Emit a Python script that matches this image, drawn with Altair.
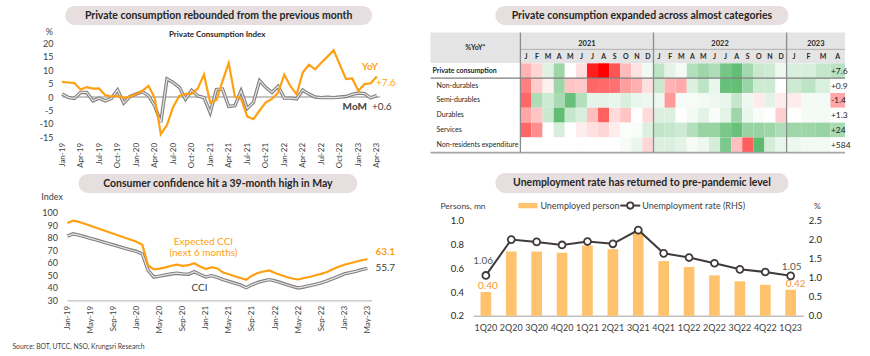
import altair as alt
import pandas as pd

# ---------------- data ----------------
tl_ticks = ["Jan-19", "Apr-19", "Jul-19", "Oct-19", "Jan-20", "Apr-20", "Jul-20", "Oct-20",
            "Jan-21", "Apr-21", "Jul-21", "Oct-21", "Jan-22", "Apr-22", "Jul-22", "Oct-22",
            "Jan-23", "Apr-23"]
yoy = [5.6, 5.4, 5.2, 2.8, 3.7, 3.1, 3.2, 0.7, 0.2, 0.4, -0.4, 0.2, 1.0, 2.3, 4.1, -0.2,
       -13.8, -10.4, -3.7, 0.4, 1.2, 1.2, 3.2, 8.4, -2.1, -1.2, 5.9, 12.6, 0.2, -0.7, -7.2,
       -8.2, -5.0, -2.0, -0.7, 1.6, 8.3, 4.0, 1.0, 9.1, 12.0, 10.3, 12.7, 15.0, 17.4, 12.0,
       6.7, 6.9, 2.3, 4.8, 5.1, 7.6]
mom = [1.1, -0.1, -0.5, 1.7, 1.7, -1.4, -0.4, -1.4, -0.5, 2.6, -2.2, 0.2, 1.1, 2.0, 0.5, -3.2,
       -9.4, 6.7, 5.4, 3.6, -0.8, 2.5, 0.4, -0.2, -5.8, 2.8, 3.0, -3.5, -3.2, 2.3, -4.2, -2.0,
       6.1, 3.6, 1.7, 4.0, -0.4, -0.4, -0.7, 2.6, 1.1, 0.0, -0.2, -0.1, -0.2, 0.0, 0.2, 1.0,
       1.5, 1.3, -0.3, 0.6]

bl_ticks = ["Jan-19", "May-19", "Sep-19", "Jan-20", "May-20", "Sep-20", "Jan-21", "May-21",
            "Sep-21", "Jan-22", "May-22", "Sep-22", "Jan-23", "May-23"]
cci = [81.5, 83.3, 82.3, 81.0, 79.7, 78.4, 77.0, 75.7, 74.4, 73.0, 71.7, 70.4, 69.2, 67.2,
       54.0, 48.6, 49.5, 50.4, 51.2, 51.8, 51.2, 51.0, 53.0, 50.8, 48.8, 49.8, 48.5, 46.7,
       45.2, 43.8, 42.4, 40.2, 42.5, 44.4, 45.6, 46.6, 45.6, 44.2, 42.6, 41.2, 40.0, 40.8,
       41.8, 42.9, 44.1, 45.7, 47.5, 49.3, 51.2, 52.2, 53.3, 54.6, 55.7]
exp_cci = [92.0, 93.8, 92.9, 91.3, 89.7, 88.1, 86.5, 84.9, 83.3, 81.7, 80.1, 78.5, 76.9, 74.5,
           58.0, 54.8, 55.5, 56.5, 57.8, 58.6, 57.7, 58.2, 59.8, 57.2, 55.1, 56.6, 55.6, 52.3,
           51.0, 49.4, 48.0, 46.6, 49.8, 52.0, 53.2, 54.0, 52.0, 50.3, 48.8, 47.6, 46.8, 48.0,
           48.8, 50.2, 51.3, 52.8, 55.0, 57.0, 58.6, 59.8, 61.0, 62.2, 63.1]

quarters = ["1Q20", "2Q20", "3Q20", "4Q20", "1Q21", "2Q21", "3Q21", "4Q21", "1Q22", "2Q22",
            "3Q22", "4Q22", "1Q23"]
unemployed = [0.40, 0.74, 0.74, 0.73, 0.79, 0.76, 0.91, 0.66, 0.61, 0.54, 0.49, 0.46, 0.42]
unemp_rate = [1.06, 2.00, 1.94, 1.86, 1.95, 1.89, 2.25, 1.64, 1.53, 1.38, 1.22, 1.15, 1.05]

hm_rows = ["Private consumption", "Non-durables", "Semi-durables", "Durables", "Services",
           "Non-residents expenditure"]
hm_years = ["2021", "2022", "2023"]
hm_months = ["J", "F", "M", "A", "M", "J", "J", "A", "S", "O", "N", "D"] * 2 + ["J", "F", "M", "A"]
# colour score per cell (red < 0 < green)
hm_pc = [-0.30, -0.17, 0.15, 0.45, 0.00, -0.12, -0.88, -1.00, -0.67, -0.27, -0.11, 0.07,
         0.30, 0.13, 0.05, 0.35, 0.45, 0.37, 0.63, 0.72, 0.43, 0.25, 0.23, 0.08,
         0.18, 0.18, 0.27, 0.32]
hm_nd = [-0.50, -0.20, -0.06, 0.45, -0.23, -0.21, -0.60, -0.58, -0.56, -0.38, -0.31, -0.12,
         0.25, -0.30, -0.33, 0.16, 0.30, 0.10, 0.70, 0.72, 0.47, 0.23, 0.23, 0.00,
         0.23, 0.30, 0.17, 0.00]
hm_sd = [-0.60, 0.37, 0.23, 0.40, 0.70, 0.35, 0.12, 0.12, 0.10, 0.18, 0.10, 0.08,
         0.08, -0.40, 0.04, 0.04, 0.06, 0.08, 0.10, 0.26, 0.08, -0.08, 0.13, -0.07,
         -0.08, 0.05, 0.05, -0.35]
hm_du = [-0.35, -0.23, 0.25, 0.73, 0.27, 0.18, -0.25, -0.62, -0.14, -0.23, 0.00, -0.14,
         0.16, 0.16, 0.01, 0.06, 0.13, 0.03, 0.13, 0.45, 0.10, 0.03, 0.00, -0.19,
         0.00, 0.05, 0.05, 0.00]
hm_sv = [-0.60, -0.44, 0.00, 0.19, 0.00, -0.07, -0.12, -0.16, -0.07, 0.02, 0.03, 0.16,
         0.29, 0.27, 0.23, 0.35, 0.48, 0.48, 0.62, 0.70, 0.48, 0.48, 0.45, 0.37,
         0.45, 0.45, 0.48, 0.40]
hm_nr = [0.00, 0.00, 0.00, 0.00, 0.00, 0.01, 0.00, 0.00, 0.00, 0.04, 0.10, -0.16,
         0.16, 0.16, 0.13, 0.04, 0.08, 0.20, 0.60, -0.25, -0.63, 0.75, 0.20, 0.10,
         0.09, 0.06, 0.06, 0.00]
hm_latest = ["+7.6", "+0.9", "-1.4", "+1.3", "+24", "+584"]

# ---------------- style / layout ----------------
FONT = "Lato"
ORANGE = "#FFA012"
BAR = "#FFC36E"
GRAY_OUT = "#847E7E"
GRAY_IN = "#E6E6E6"
PILL = "#E7DFDF"
TXT = "#262626"
TICK = "#404040"
W, H = 870, 356
OX, OY = 58.6, 42.3
TL_W, TL_H = 321.4, 94.4
HM_W, HM_H = 372.3, 109.4
BL_W, BL_H = 313.1, 87.6
UN_W, UN_H = 330.6, 103.0
COL_GAP = 472.7 - OX - TL_W
ROW_GAP = 211.7 - OY - HM_H


def one(text):
    return alt.Chart(pd.DataFrame({"t": [text]}))


def pill(x0, x1, y0, y1, text):
    r = one(text).mark_rect(color=PILL, cornerRadius=(y1 - y0) / 2).encode(
        x=alt.value(x0), x2=alt.value(x1), y=alt.value(y0), y2=alt.value(y1))
    t = one(text).mark_text(font=FONT, fontSize=10.5, fontWeight="bold", color=TXT,
                            align="center", baseline="middle").encode(
        x=alt.value((x0 + x1) / 2), y=alt.value((y0 + y1) / 2 + 0.5), text="t:N")
    return [r, t]


def label(x, y, text, **kw):
    props = dict(font=FONT, fontSize=9, color=TXT, align="left", baseline="middle")
    props.update(kw)
    return one(text).mark_text(**props).encode(x=alt.value(x), y=alt.value(y), text="t:N")


def js_list(items):
    return "[" + ",".join("'" + s + "'" for s in items) + "]"


def end_note(i, v, text, xenc, yenc, dx, dy, **kw):
    props = dict(font=FONT, fontSize=10, align="left", baseline="middle", dx=dx, dy=dy)
    props.update(kw)
    d = pd.DataFrame({"i": [i], "v": [v], "t": [text]})
    return alt.Chart(d).mark_text(**props).encode(x=xenc, y=yenc, text="t:N")


# ---------------- top-left: private consumption index ----------------
tl_df = pd.DataFrame({"i": list(range(len(yoy))), "yoy": yoy, "mom": mom})
tl_xscale = alt.Scale(domain=[-0.5, len(yoy) - 0.5], nice=False, zero=False)
tl_xaxis = alt.Axis(values=list(range(0, len(yoy), 3)),
                    labelExpr=js_list(tl_ticks) + "[round(datum.value/3)]",
                    labelAngle=270, domain=False, ticks=False, grid=False, labelPadding=5,
                    labelFontSize=8, labelColor=TICK, title=None, labelFlush=False,
                    labelOverlap=False, zindex=1)
tl_yscale = alt.Scale(domain=[-15, 20], nice=False, zero=False)
tl_yaxis = alt.Axis(values=list(range(-15, 21, 5)), labelExpr="'' + datum.value",
                    domain=False, ticks=False, grid=False, labelPadding=6, labelFontSize=9,
                    labelColor=TICK, title=None, labelFlush=False, labelOverlap=False,
                    zindex=1)


def tl_y(field):
    return alt.Y(field + ":Q", scale=tl_yscale, axis=tl_yaxis, title=None)


tl_x = alt.X("i:Q", scale=tl_xscale, axis=tl_xaxis, title=None)

# invisible frame that fixes the page extent (870 x 356)
bg = one("").mark_rect(color="white", opacity=0).encode(
    x=alt.value(-OX), x2=alt.value(W - OX), y=alt.value(-OY), y2=alt.value(H - OY))
tl_layers = [bg] + pill(6.4, 313.4, -37.3, -18.3, "Private consumption rebounded from the previous month")
tl_layers.append(label(158.4, -8.3, "Private Consumption Index", fontSize=8, fontWeight="bold", align="center"))
tl_layers.append(label(-9.6, -11.3, "%", fontSize=9, color=TICK, align="center"))
tl_base = alt.Chart(tl_df)
tl_layers.append(tl_base.transform_calculate(z="0").mark_rule(
    color="#C4C4C4", strokeWidth=1.2).encode(x=tl_x, x2=alt.value(TL_W), y=tl_y("z")))
tl_layers.append(tl_base.mark_line(color=GRAY_OUT, strokeWidth=3.4).encode(x=tl_x, y=tl_y("mom")))
tl_layers.append(tl_base.mark_line(color=GRAY_IN, strokeWidth=1.2).encode(x=tl_x, y=tl_y("mom")))
tl_layers.append(tl_base.mark_line(color=ORANGE, strokeWidth=2.2).encode(x=tl_x, y=tl_y("yoy")))
last_i = len(yoy) - 1
tl_layers.append(end_note(last_i, yoy[-1], "YoY", tl_x, tl_y("v"), -7, -10,
                          color=ORANGE, fontWeight="bold", align="center"))
tl_layers.append(end_note(last_i, yoy[-1], "+" + str(yoy[-1]), tl_x, tl_y("v"), -1, 6,
                          color=ORANGE))
tl_layers.append(end_note(last_i, mom[-1], "MoM", tl_x, tl_y("v"), -10, 11.5,
                          color=TICK, fontWeight="bold", align="right"))
tl_layers.append(end_note(last_i, mom[-1], "+" + str(mom[-1]), tl_x, tl_y("v"), -5, 11.5,
                          color=TICK))
tl = alt.layer(*tl_layers).properties(width=TL_W, height=TL_H)

# ---------------- top-right: heat map ----------------
W23 = 1.317
HM_UNITS = 24 + 4 * W23
hm_scores = [hm_pc, hm_nd, hm_sd, hm_du, hm_sv, hm_nr]


def col_x0(c):
    return c if c < 24 else 24 + (c - 24) * W23


def col_w(c):
    return 1 if c < 24 else W23


cells = []
for r, name in enumerate(hm_rows):
    for c, s in enumerate(hm_scores[r]):
        cells.append({"row": name, "x0": col_x0(c), "x1": col_x0(c) + col_w(c), "score": s})
cells_df = pd.DataFrame(cells)
months_df = pd.DataFrame({"xc": [col_x0(c) + col_w(c) / 2 for c in range(len(hm_months))],
                          "m": hm_months})
years_df = pd.DataFrame({"xc": [6, 18, 24 + 2 * W23], "y": hm_years})
latest_df = pd.DataFrame({"row": hm_rows, "t": hm_latest, "xa": [col_x0(27)] * len(hm_rows)})
rows_df = pd.DataFrame({"row": hm_rows})

hm_xscale = alt.Scale(domain=[0, HM_UNITS], range=[47.3, HM_W], nice=False, zero=False)
hm_yscale = alt.Scale(domain=hm_rows, range=[20.2, 109.2], paddingInner=0, paddingOuter=0)
hm_y = alt.Y("row:N", scale=hm_yscale, axis=None, sort=hm_rows)

hm_layers = pill(22.3, 315.6, -37.3, -18.3, "Private consumption expanded across almost categories")
hm_layers.append(one("").mark_rect(color="#E4E4E4").encode(
    x=alt.value(-42.7), x2=alt.value(HM_W), y=alt.value(-10.6), y2=alt.value(19.8)))
hm_layers.append(alt.Chart(cells_df).mark_rect().encode(
    x=alt.X("x0:Q", scale=hm_xscale, axis=None), x2="x1:Q", y=hm_y,
    color=alt.Color("score:Q", scale=alt.Scale(domain=[-1, 0, 0.75],
                                               range=["#FF0000", "#FFFFFF", "#5DBB70"],
                                               interpolate="rgb"), legend=None)))
hm_layers.append(label(2.3, 4.7, "%YoY*", fontSize=7, fontWeight="bold", align="center"))
hm_layers.append(alt.Chart(years_df).mark_text(font=FONT, fontSize=7.5, fontWeight="bold",
                                               color=TXT, baseline="middle").encode(
    x=alt.X("xc:Q", scale=hm_xscale, axis=None), y=alt.value(0.4), text="y:N"))
hm_layers.append(alt.Chart(months_df).mark_text(font=FONT, fontSize=7, fontWeight="bold",
                                                color=TXT, baseline="middle").encode(
    x=alt.X("xc:Q", scale=hm_xscale, axis=None), y=alt.value(14.2), text="m:N"))
hm_layers.append(one("").mark_rule(color="#A6A6A6", strokeWidth=0.8).encode(
    x=alt.value(47.3), x2=alt.value(HM_W), y=alt.value(6.2)))
hm_layers.append(one("").mark_rule(color="#7F7F7F", strokeWidth=1.3).encode(
    x=alt.value(-42.7), x2=alt.value(HM_W), y=alt.value(35.0)))
hm_layers.append(one("").mark_rule(color="#A6A6A6", strokeWidth=1.8).encode(
    x=alt.value(-42.7), x2=alt.value(HM_W), y=alt.value(109.6)))
hm_layers.append(alt.Chart(pd.DataFrame({"u": [0, 12, 24]})).mark_rule(
    color="#8C8C8C", strokeWidth=1.3).encode(
    x=alt.X("u:Q", scale=hm_xscale, axis=None), y=alt.value(-10.6), y2=alt.value(109.7)))
hm_layers.append(alt.Chart(rows_df).transform_filter(
    alt.datum.row == hm_rows[0]).mark_text(font=FONT, fontSize=7, fontWeight="bold",
                                           color=TXT, align="left", baseline="middle").encode(
    x=alt.value(-40.7), y=hm_y, text="row:N"))
hm_layers.append(alt.Chart(rows_df).transform_filter(
    alt.datum.row != hm_rows[0]).mark_text(font=FONT, fontSize=7, color=TXT, align="left",
                                           baseline="middle").encode(
    x=alt.value(-36.7), y=hm_y, text="row:N"))
hm_layers.append(alt.Chart(latest_df).mark_text(font=FONT, fontSize=8.5, color=TXT,
                                                align="left", baseline="middle", dx=0.5).encode(
    x=alt.X("xa:Q", scale=hm_xscale, axis=None), y=hm_y, text="t:N"))
hm = alt.layer(*hm_layers).properties(width=HM_W, height=HM_H)

# ---------------- bottom-left: consumer confidence ----------------
bl_df = pd.DataFrame({"i": list(range(len(cci))), "cci": cci, "exp": exp_cci})
bl_xscale = alt.Scale(domain=[-0.052, 52.74], range=[8.1, BL_W], nice=False, zero=False)
bl_xaxis = alt.Axis(values=list(range(0, len(cci), 4)),
                    labelExpr=js_list(bl_ticks) + "[round(datum.value/4)]",
                    labelAngle=270, domain=True, domainColor="#BFBFBF", domainWidth=1.2,
                    ticks=False, grid=False, labelPadding=5, labelFontSize=8,
                    labelColor=TICK, title=None, labelFlush=False, labelOverlap=False)
bl_yscale = alt.Scale(domain=[30, 100], nice=False, zero=False)
bl_yaxis = alt.Axis(values=list(range(30, 101, 10)), domain=False, ticks=False, grid=False,
                    labelPadding=1.5, labelFontSize=9, labelColor=TICK, title=None,
                    labelFlush=False, labelOverlap=False)
bl_x = alt.X("i:Q", scale=bl_xscale, axis=bl_xaxis, title=None)


def bl_y(field):
    return alt.Y(field + ":Q", scale=bl_yscale, axis=bl_yaxis, title=None)


bl_base = alt.Chart(bl_df)
bl_layers = pill(19.7, 298.7, -39.0, -20.0, "Consumer confidence hit a 39-month high in May")
bl_layers.append(label(-6.9, -15.7, "Index", fontSize=9, color=TICK, align="center"))
bl_layers.append(bl_base.mark_line(color=GRAY_OUT, strokeWidth=3.4).encode(x=bl_x, y=bl_y("cci")))
bl_layers.append(bl_base.mark_line(color=GRAY_IN, strokeWidth=1.2).encode(x=bl_x, y=bl_y("cci")))
bl_layers.append(bl_base.mark_line(color=ORANGE, strokeWidth=2.2).encode(x=bl_x, y=bl_y("exp")))
bl_layers.append(label(144.7, 29.3, "Expected CCI", fontSize=10, color=ORANGE, align="center"))
bl_layers.append(label(144.7, 40.0, "(next 6 months)", fontSize=10, color=ORANGE, align="center"))
bl_layers.append(label(140.7, 75.6, "CCI", fontSize=10, color=TICK, align="center"))
bl_last = len(cci) - 1
bl_layers.append(end_note(bl_last, exp_cci[-1], str(exp_cci[-1]), bl_x, bl_y("v"), 8, -7,
                          color=ORANGE, fontWeight="bold"))
bl_layers.append(end_note(bl_last, cci[-1], str(cci[-1]), bl_x, bl_y("v"), 8, 0, color=TICK))
bl_layers.append(label(-46.6, 134.3, "Source: BOT, UTCC, NSO, Krungsri Research",
                       fontSize=6.8, color=TICK))
bl = alt.layer(*bl_layers).properties(width=BL_W, height=BL_H)

# ---------------- bottom-right: unemployment ----------------
un_df = pd.DataFrame({"q": quarters, "p": unemployed, "r": unemp_rate})
un_xscale = alt.Scale(domain=quarters, paddingInner=0.58, paddingOuter=0.29)
un_x = alt.X("q:N", sort=quarters, scale=un_xscale, title=None,
             axis=alt.Axis(labelAngle=0, domain=True, domainColor="#BFBFBF", domainWidth=1.5,
                           ticks=False, grid=False, labelPadding=8, labelFontSize=9,
                           labelColor=TICK, title=None))
p_scale = alt.Scale(domain=[0.2, 1.0], range=[UN_H, 7.6], nice=False, zero=False)
p_axis = alt.Axis(orient="left", values=[0.2, 0.4, 0.6, 0.8, 1.0], format=".1f", domain=False,
                  ticks=False, grid=False, labelPadding=9.7, labelFontSize=9.5,
                  labelColor=TXT, title=None, labelFlush=False, labelOverlap=False)
r_scale = alt.Scale(domain=[0, 2.5], range=[UN_H, 7.6], nice=False, zero=False)
r_axis = alt.Axis(orient="right", values=[0, 0.5, 1.0, 1.5, 2.0, 2.5], format=".1f",
                  domain=False, ticks=False, grid=False, labelPadding=5, labelFontSize=9.5,
                  labelColor=TXT, title=None, labelFlush=False, labelOverlap=False)
un_p = alt.Y("p:Q", scale=p_scale, axis=p_axis, title=None)
un_r = alt.Y("r:Q", scale=r_scale, axis=r_axis, title=None)
LINE = "#403A3A"


def un_lab(idx, field, yenc, color, dx, dy):
    val = un_df[field].iloc[idx]
    d = pd.DataFrame({"q": [quarters[idx]], field: [val], "t": ["%.2f" % val]})
    return alt.Chart(d).mark_text(font=FONT, fontSize=10, color=color, align="center",
                                  baseline="middle", dx=dx, dy=dy).encode(
        x=un_x, y=yenc, text="t:N")


left_group = alt.layer(
    alt.Chart(un_df).mark_bar(color=BAR).encode(x=un_x, y=un_p, y2=alt.datum(0.2)),
    un_lab(0, "p", un_p, "#F5962E", 2, -6.3),
    un_lab(-1, "p", un_p, "#F5962E", 5, -5.4),
)
right_group = alt.layer(
    alt.Chart(un_df).mark_line(color=LINE, strokeWidth=2).encode(x=un_x, y=un_r),
    alt.Chart(un_df).mark_point(shape="circle", size=48, filled=True, fill="white",
                                stroke=LINE, strokeWidth=1.8, opacity=1).encode(x=un_x, y=un_r),
    un_lab(0, "r", un_r, "#595959", -2.7, -14.3),
    un_lab(-1, "r", un_r, "#595959", 1, -9.3),
)
un_layers = pill(22.3, 315.6, -40.0, -20.0, "Unemployment rate has returned to pre-pandemic level")
un_layers.append(label(-32.7, -6.7, "Persons, mn", fontSize=8.5, color=TICK))
un_layers.append(label(344.6, -7.4, "%", fontSize=8.5, color=TICK, align="center"))
un_layers.append(one("").mark_rect(color=BAR).encode(
    x=alt.value(45.3), x2=alt.value(64.3), y=alt.value(-10.0), y2=alt.value(-4.6)))
un_layers.append(label(67.3, -7.4, "Unemployed person", fontSize=9, color=TICK))
un_layers.append(one("").mark_rule(color=LINE, strokeWidth=2).encode(
    x=alt.value(147.3), x2=alt.value(167.3), y=alt.value(-7.4)))
un_layers.append(one("").mark_point(shape="circle", size=40, filled=True, fill="white",
                                    stroke=LINE, strokeWidth=1.8, opacity=1).encode(
    x=alt.value(157.3), y=alt.value(-7.4)))
un_layers.append(label(169.3, -7.4, "Unemployment rate (RHS)", fontSize=9, color=TICK))
un_layers += [left_group, right_group]
un = alt.layer(*un_layers).resolve_scale(y="independent").properties(width=UN_W, height=UN_H)

chart = alt.concat(tl, hm, bl, un, columns=2,
                   spacing={"row": ROW_GAP, "column": COL_GAP},
                   bounds="flush").properties(padding=0, background="white")
chart = chart.configure(font=FONT).configure_view(stroke=None)
chart.save("out.html", embed_options={"renderer": "svg", "actions": False})
